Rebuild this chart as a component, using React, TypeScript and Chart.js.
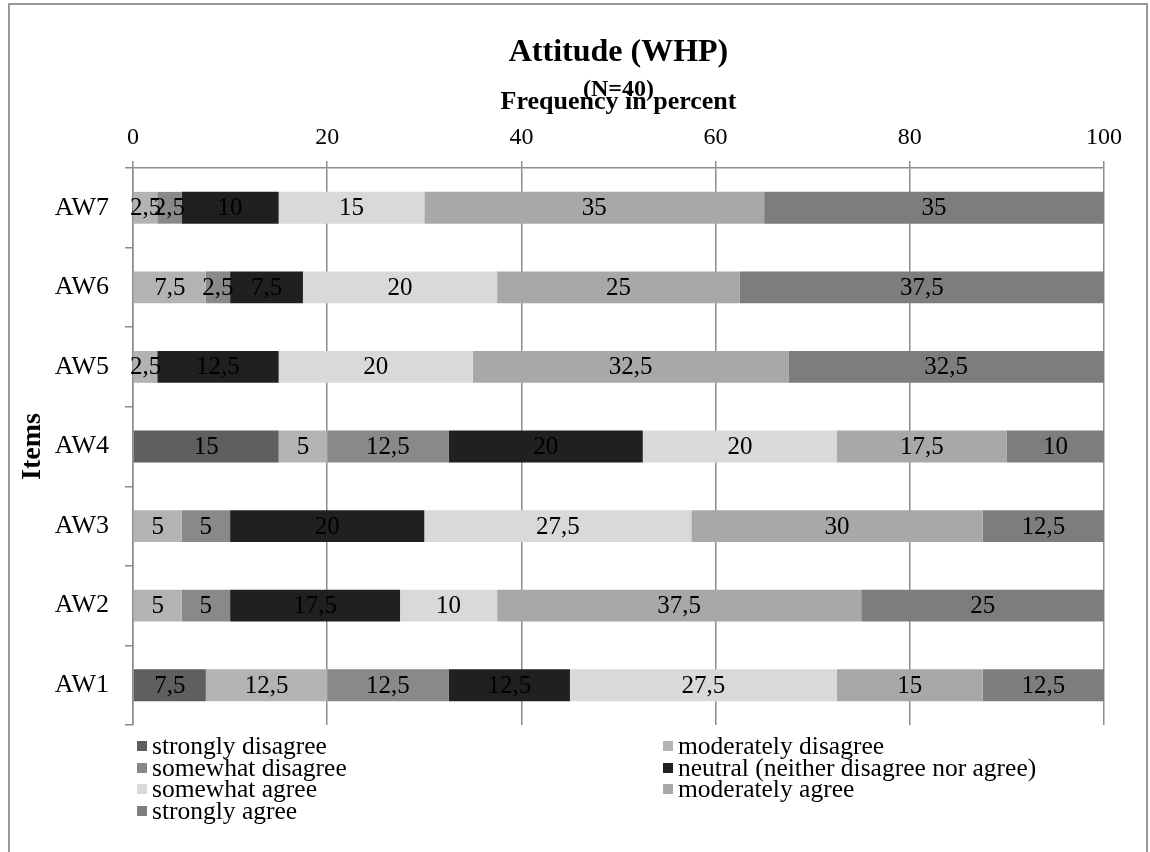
import React, { useEffect, useRef } from "react";
import { Chart, registerables } from "chart.js";

Chart.register(...registerables);

const FONT = "'Liberation Serif', 'Times New Roman', serif";
const GRID = "#8c8c8c";

const categories = ["AW7", "AW6", "AW5", "AW4", "AW3", "AW2", "AW1"];

const seriesNames = [
  "strongly disagree",
  "moderately disagree",
  "somewhat disagree",
  "neutral (neither disagree nor agree)",
  "somewhat agree",
  "moderately agree",
  "strongly agree",
];

const stronglyDisagree = [0, 0, 0, 15, 0, 0, 7.5];
const moderatelyDisagree = [2.5, 7.5, 2.5, 5, 5, 5, 12.5];
const somewhatDisagree = [2.5, 2.5, 0, 12.5, 5, 5, 12.5];
const neutral = [10, 7.5, 12.5, 20, 20, 17.5, 12.5];
const somewhatAgree = [15, 20, 20, 20, 27.5, 10, 27.5];
const moderatelyAgree = [35, 25, 32.5, 17.5, 30, 37.5, 15];
const stronglyAgree = [35, 37.5, 32.5, 10, 12.5, 25, 12.5];

const seriesValues = [
  stronglyDisagree,
  moderatelyDisagree,
  somewhatDisagree,
  neutral,
  somewhatAgree,
  moderatelyAgree,
  stronglyAgree,
];

const seriesColors = ["#5f5f5f", "#b3b3b3", "#898989", "#202020", "#d9d9d9", "#a8a8a8", "#7d7d7d"];

const xMin = 0;
const xMax = 100;
const xStep = 20;

const titleText = "Attitude (WHP)";
const subtitleText = "(N=40)";
const xTitleText = "Frequency in percent";
const yTitleText = "Items";

const valueLabels = {
  id: "valueLabels",
  afterDatasetsDraw(chart: any) {
    const ctx = chart.ctx;
    ctx.save();
    ctx.font = `25px ${FONT}`;
    ctx.fillStyle = "#000";
    ctx.textAlign = "center";
    ctx.textBaseline = "middle";
    chart.data.datasets.forEach((ds: any, di: number) => {
      const meta = chart.getDatasetMeta(di);
      meta.data.forEach((el: any, i: number) => {
        const v = ds.data[i];
        if (!v) return;
        const p = el.getCenterPoint();
        ctx.fillText(String(v).replace(".", ","), p.x, p.y + 1);
      });
    });
    ctx.restore();
  },
};

export default function App() {
  const canvasRef = useRef<HTMLCanvasElement | null>(null);

  useEffect(() => {
    if (!canvasRef.current) return;
    const chart = new Chart(canvasRef.current, {
      type: "bar",
      data: {
        labels: categories,
        datasets: seriesNames.map((name, i) => ({
          label: name,
          data: seriesValues[i],
          backgroundColor: seriesColors[i],
          borderWidth: 0,
          barPercentage: 0.4,
          categoryPercentage: 1,
        })),
      },
      plugins: [valueLabels],
      options: {
        responsive: false,
        animation: false,
        indexAxis: "y",
        layout: { padding: { left: 12, right: 46, top: 0, bottom: 127 } },
        plugins: {
          legend: { display: false },
          tooltip: { enabled: false },
          title: {
            display: true,
            fullSize: false,
            text: titleText,
            color: "#000",
            font: { family: FONT, size: 32, weight: "bold", lineHeight: 1.2 },
            padding: { top: 34, bottom: 0 },
          },
          subtitle: {
            display: true,
            fullSize: false,
            text: subtitleText,
            color: "#000",
            font: { family: FONT, size: 24, weight: "bold", lineHeight: 0.5 },
            padding: { top: 11, bottom: 0 },
          },
        },
        scales: {
          x: {
            position: "top",
            stacked: true,
            min: xMin,
            max: xMax,
            ticks: { stepSize: xStep, color: "#000", font: { family: FONT, size: 24 }, padding: 8.9 },
            grid: { color: GRID, lineWidth: 1.5, tickLength: 7 },
            border: { display: true, color: GRID, width: 1.5 },
            title: {
              display: true,
              text: xTitleText,
              color: "#000",
              font: { family: FONT, size: 26, weight: "bold", lineHeight: 0.5 },
              padding: { top: 0, bottom: 6 },
            },
          },
          y: {
            stacked: true,
            ticks: { color: "#000", font: { family: FONT, size: 26 }, padding: 16 },
            grid: { display: true, drawOnChartArea: false, offset: true, tickLength: 8, color: GRID, lineWidth: 1.5 },
            border: { display: true, color: GRID, width: 1.5 },
            title: {
              display: true,
              text: yTitleText,
              color: "#000",
              font: { family: FONT, size: 28, weight: "bold", lineHeight: 1.2 },
              padding: { top: 4, bottom: 0 },
            },
            afterFit: (scale: any) => {
              scale.width = 121;
            },
          },
        },
      } as any,
    });
    return () => chart.destroy();
  }, []);

  const legendStyle: React.CSSProperties = {
    position: "absolute",
    left: 137,
    top: 735,
    display: "grid",
    gridTemplateColumns: "526px auto",
    gridAutoRows: "21.7px",
    fontFamily: FONT,
    fontSize: 25.5,
    lineHeight: "21.7px",
    color: "#000",
    whiteSpace: "nowrap",
  };

  return (
    <div>
      <canvas
        ref={canvasRef}
        width={1150}
        height={852}
        style={{ position: "absolute", left: 0, top: 0, width: 1150, height: 852 }}
      />
      <div
        style={{
          position: "absolute",
          left: 8,
          top: 3,
          width: 1140,
          height: 849,
          boxSizing: "border-box",
          borderTop: "2px solid #9a9a9a",
          borderLeft: "2px solid #9a9a9a",
          borderRight: "2px solid #9a9a9a",
          pointerEvents: "none",
        }}
      />
      <div style={legendStyle}>
        {seriesNames.map((name, i) => (
          <div key={name} style={{ display: "flex", alignItems: "center" }}>
            <span
              style={{
                display: "inline-block",
                width: 10,
                height: 10,
                background: seriesColors[i],
                marginRight: 5,
              }}
            />
            <span>{name}</span>
          </div>
        ))}
      </div>
    </div>
  );
}
